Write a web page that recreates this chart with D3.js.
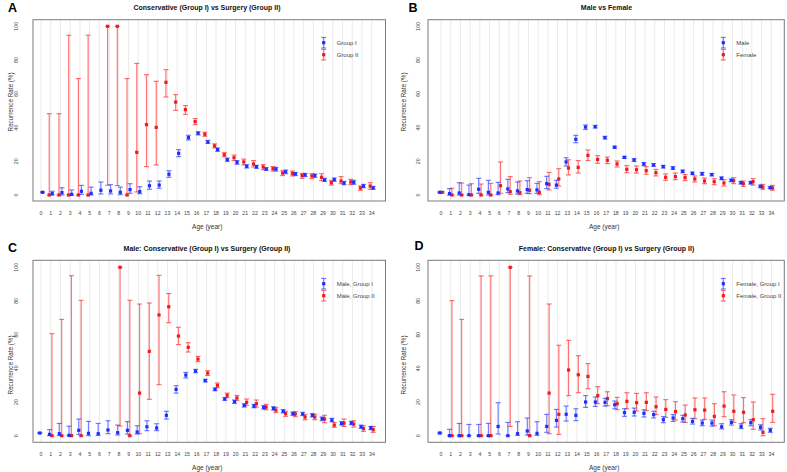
<!DOCTYPE html>
<html><head><meta charset="utf-8">
<script src="https://cdn.jsdelivr.net/npm/d3@7"></script>
<style>
body{margin:0;background:#fff}
svg{display:block}
text{font-family:"Liberation Sans",Arial,Helvetica,sans-serif}
</style>
</head><body>
<svg id="c" width="787" height="472"></svg>
<script>
const ages = [0,1,2,3,4,5,6,7,8,9,10,11,12,13,14,15,16,17,18,19,20,21,22,23,24,25,26,27,28,29,30,31,32,33,34];
const yTicks = [0,20,40,60,80,100];
const N = null;

// Panel A: Conservative (Group I) vs Surgery (Group II)
const aG1   = [1.6,0.8,1.4,0.4,2.2,1.0,2.8,2.4,1.6,3.2,2.0,5.5,5.9,12.3,24.7,34.0,36.6,31.4,26.9,20.9,19.4,17.0,16.8,15.4,15.4,13.8,12.5,11.9,11.5,8.9,9.1,7.1,7.5,5.3,4.2];
const aG1lo = [1.3,0,0,0,0.4,0,0.6,0.6,0.2,1.0,0.8,3.4,4.0,10.5,22.7,32.6,35.6,30.6,25.9,20.0,18.2,16.0,15.8,14.6,14.2,12.6,11.5,10.9,10.5,8.1,8.1,6.1,6.3,4.3,3.4];
const aG1hi = [1.9,2.2,4.3,3.0,5.7,4.7,7.7,6.1,4.7,6.7,4.9,8.3,8.3,14.4,26.9,35.4,37.5,32.4,27.9,21.9,20.4,18.0,17.6,16.2,16.4,14.8,13.4,12.8,12.5,9.9,10.1,8.1,8.7,6.3,5.1];
const aG2   = [N,0,0,0,0,0,N,100,100,0,25.3,41.7,40.1,66.8,55.1,50.6,43.5,36.0,29.1,23.9,22.1,19.6,18.4,16.6,15.6,13.0,12.8,11.5,11.3,10.5,7.3,8.3,7.7,4.2,5.3];
const aG2lo = [N,0,0,0,0,0,N,5.8,5.6,0,1.8,16.8,17.8,58.1,50.2,47.8,41.7,34.8,27.9,22.7,20.4,17.8,16.6,15.0,14.2,11.5,11.3,9.9,9.7,8.5,5.9,6.7,6.1,2.8,3.4];
const aG2hi = [N,48.2,48.2,94.7,69.0,94.7,N,100,100,69.0,78.0,71.3,67.4,74.3,59.5,53.0,45.3,37.2,30.3,25.1,23.7,21.3,20.4,18.0,16.8,14.4,14.2,12.8,12.6,12.6,8.7,10.9,9.3,5.3,7.3];

// Panel B: Male vs Female
const bM    = [1.6,0.8,1.2,0.2,3.4,1.6,1.2,3.6,2.4,3.2,3.0,6.7,5.9,19.6,33.0,40.3,40.5,34.0,28.3,22.3,20.8,18.4,17.8,16.8,16.0,14.0,12.8,12.6,12.1,9.9,8.7,7.3,7.3,5.1,4.3];
const bMlo  = [1.3,0,0,0,1.0,0,0.2,1.4,0.6,1.0,1.0,3.8,4.0,17.2,31.0,38.9,39.7,33.2,27.7,21.7,19.9,17.4,17.0,16.0,15.2,13.2,12.1,11.7,11.3,9.1,7.9,6.5,6.5,4.3,3.8];
const bMhi  = [1.9,3.8,7.3,5.9,9.9,8.7,7.5,9.3,7.7,8.5,6.9,11.1,8.7,22.1,35.4,41.5,41.3,34.8,28.9,22.9,21.5,19.2,18.6,17.6,16.8,14.8,13.6,13.4,12.8,10.7,9.5,8.1,8.1,5.9,5.1];
const bF    = [1.6,0,0,0,0,0,5.5,2.0,1.4,2.8,1.6,6.3,9.5,16.0,16.4,23.5,21.1,20.6,18.4,15.2,15.0,14.4,13.2,10.5,10.9,10.3,9.5,8.3,7.9,7.1,8.5,6.7,7.9,4.7,4.2];
const bFlo  = [1.2,0,0,0,0,0,1.0,0.4,0.2,0.8,0.2,3.0,5.3,11.9,13.0,20.4,18.8,18.6,16.6,13.2,13.0,12.3,11.3,8.7,9.1,8.5,7.7,6.7,6.1,5.3,6.7,5.1,5.9,3.4,2.8];
const bFhi  = [2.0,4.0,7.1,6.7,6.5,6.9,19.6,10.9,8.3,10.3,7.9,13.4,15.6,20.9,20.4,26.7,23.3,22.5,20.2,17.4,17.2,16.8,15.2,12.5,13.0,12.1,11.3,10.1,9.7,9.1,10.3,8.3,9.7,6.3,5.7];

// Panel C: Male: Conservative (Group I) vs Surgery (Group II)
const cG1   = [1.6,0.8,1.2,0.2,3.2,1.4,1.2,3.4,1.8,3.2,2.2,5.3,4.6,12.1,27.5,36.0,38.4,32.7,27.5,21.8,20.2,18.0,17.6,16.8,16.2,14.5,13.1,12.9,12.1,10.1,9.3,7.3,7.5,5.3,4.6];
const cG1lo = [1.3,0,0,0,0.8,0,0.2,1.2,0.4,1.0,1.0,3.0,3.0,9.9,25.3,34.3,37.4,31.9,26.7,21.0,19.2,17.0,16.6,15.8,15.2,13.5,12.1,11.9,11.1,8.9,8.3,6.3,6.5,4.4,3.6];
const cG1hi = [1.9,3.6,7.3,5.7,9.9,8.5,7.3,8.9,6.3,8.3,5.9,8.9,7.1,14.5,29.7,37.6,39.4,33.5,28.3,22.6,21.2,19.0,18.6,17.8,17.2,15.5,14.1,13.9,13.1,11.1,10.3,8.3,8.5,6.3,5.5];
const cG2   = [N,0,0,0,0,N,N,N,100,0,25.3,50.1,71.7,76.6,59.2,52.5,45.5,37.2,29.9,24.0,22.4,19.8,19.0,17.0,15.2,13.1,12.9,11.1,11.1,9.9,6.3,7.5,6.9,4.2,3.6];
const cG2lo = [N,0,0,0,0,N,N,N,5.7,0,1.2,21.6,30.3,67.1,54.1,49.7,44.0,35.8,28.5,22.6,20.8,18.0,17.0,15.4,13.7,11.5,11.3,9.5,9.5,7.7,5.0,5.5,5.1,2.6,2.0];
const cG2hi = [N,60.6,69.1,95.0,80.4,N,N,N,100,80.4,78.2,78.8,95.2,84.4,64.4,55.2,47.1,38.6,31.3,25.3,23.9,21.8,21.2,18.6,16.8,14.5,14.3,12.7,12.7,12.1,7.9,9.9,8.9,5.9,5.5];

// Panel D: Female: Conservative (Group I) vs Surgery (Group II)
const dG1   = [1.6,0,0,0,0,0,5.5,0,1.2,2.8,1.4,5.5,9.1,12.7,12.1,20.0,20.0,19.8,18.4,13.7,13.9,13.3,12.5,9.5,10.5,10.1,8.5,7.5,7.5,5.3,7.9,5.5,7.7,5.0,3.2];
const dG1lo = [1.2,0,0,0,0,0,1.0,0,0.2,0.4,0.2,2.0,5.1,8.7,8.9,16.8,17.4,17.6,16.0,11.5,11.7,11.1,10.5,7.7,8.5,8.1,6.9,5.9,5.7,4.0,6.3,4.2,5.9,3.4,2.0];
const dG1hi = [2.0,3.8,7.3,6.7,6.7,7.3,19.6,7.9,8.3,10.5,8.3,12.7,15.6,17.6,16.0,23.8,23.0,22.2,20.6,16.0,16.4,15.4,14.5,11.3,12.5,12.1,10.3,9.3,9.3,7.1,9.5,7.1,9.5,6.5,4.4];
const dG2   = [N,0,0,N,0,0,N,100,N,0,N,25.3,12.7,39.0,36.2,35.2,23.8,22.0,19.0,20.4,19.6,19.8,17.2,15.6,14.3,12.3,15.4,15.2,11.5,17.6,14.5,13.9,9.5,2.0,14.5];
const dG2lo = [N,0,0,N,0,0,N,5.5,N,0,N,1.2,0.8,23.8,25.5,27.9,19.0,17.8,15.4,16.0,14.7,14.9,12.5,10.9,9.3,7.9,10.1,9.7,5.9,11.3,7.9,7.7,3.8,0,7.9];
const dG2hi = [N,80.2,69.1,N,94.9,94.9,N,100,N,94.9,N,78.2,53.7,56.6,47.5,42.8,29.1,26.1,22.8,25.5,25.1,25.5,23.0,21.4,20.2,18.2,22.4,22.4,19.0,26.1,24.2,22.6,20.0,10.1,24.6];

const BLUE = "#1e2eff", RED = "#f21a1a";

const panels = [
  {letter:"A", title:"Conservative (Group I) vs Surgery (Group II)", names:["Group I","Group II"],
   s1:[aG1,aG1lo,aG1hi], s2:[aG2,aG2lo,aG2hi], off1:1.5, off2:-1.5,
   box:[33,19.7,385.5,201], xr:[41,371.7], yr:[195,26.3], ytl:16.5, ylab:[10.3,102], titleXY:[207,9.8], letterXY:[8,11.8], leg:[323.7,42.7]},
  {letter:"B", title:"Male vs Female", names:["Male","Female"],
   s1:[bM,bMlo,bMhi], s2:[bF,bFlo,bFhi], off1:-1.2, off2:1.2,
   box:[428,19.7,784.3,201], xr:[441,771.3], yr:[195,26.3], ytl:418.5, ylab:[403.5,102], titleXY:[606.5,9.8], letterXY:[408.5,11.8], leg:[723.3,42.7]},
  {letter:"C", title:"Male: Conservative (Group I) vs Surgery (Group II)", names:["Male, Group I","Male, Group II"],
   s1:[cG1,cG1lo,cG1hi], s2:[cG2,cG2lo,cG2hi], off1:-1.2, off2:1.2,
   box:[33,260.3,385.5,442.3], xr:[41,372], yr:[435.7,267.3], ytl:16.5, ylab:[10.3,365], titleXY:[207,250.8], letterXY:[8,251.8], leg:[323.7,283.7]},
  {letter:"D", title:"Female: Conservative (Group I) vs Surgery (Group II)", names:["Female, Group I","Female, Group II"],
   s1:[dG1,dG1lo,dG1hi], s2:[dG2,dG2lo,dG2hi], off1:-1.2, off2:1.2,
   box:[428,260.3,784.3,442.3], xr:[441,771.5], yr:[435.7,267.3], ytl:418.5, ylab:[403.5,365], titleXY:[606.5,250.8], letterXY:[414.5,250.2], leg:[723.3,283.7]}
];

const svg = d3.select("#c");

function errBar(g, x, yp, ylo, yhi, color, barColor) {
  const cap = 2.5;
  g.append("line").attr("x1",x).attr("x2",x).attr("y1",ylo).attr("y2",yhi)
    .attr("stroke",barColor).attr("stroke-width",1.2).attr("stroke-opacity",0.65);
  [ylo,yhi].forEach(yy => g.append("line").attr("x1",x-cap).attr("x2",x+cap).attr("y1",yy).attr("y2",yy)
    .attr("stroke",barColor).attr("stroke-width",1.1).attr("stroke-opacity",0.7));
  g.append("rect").attr("x",x-1.6).attr("y",yp-1.6).attr("width",3.2).attr("height",3.2).attr("fill",color);
}

panels.forEach(p => {
  const g = svg.append("g");
  const [bx0,by0,bx1,by1] = p.box;
  const x = d3.scaleLinear().domain([0,34]).range(p.xr);
  const y = d3.scaleLinear().domain([0,100]).range(p.yr);

  // grid
  g.selectAll(null).data(ages).join("line")
    .attr("x1",d=>x(d)).attr("x2",d=>x(d)).attr("y1",by0).attr("y2",by1)
    .attr("stroke","#e4e4e4").attr("stroke-width",0.8);

  // box
  g.append("rect").attr("x",bx0).attr("y",by0).attr("width",bx1-bx0).attr("height",by1-by0)
    .attr("fill","none").attr("stroke","#7a7a7a").attr("stroke-width",1);

  // x tick labels
  g.selectAll(null).data(ages).join("text")
    .attr("x",d=>x(d)).attr("y",by1+13.5).attr("text-anchor","middle")
    .attr("font-size",5.2).attr("fill","#444").text(d=>d);

  // y tick labels (rotated)
  g.selectAll(null).data(yTicks).join("text")
    .attr("transform",d=>`translate(${p.ytl+1.8},${y(d)}) rotate(-90)`)
    .attr("text-anchor","middle").attr("font-size",5.2).attr("fill","#444").text(d=>d);

  // axis labels
  g.append("text").attr("x",(bx0+bx1)/2-2).attr("y",by1+28).attr("text-anchor","middle")
    .attr("font-size",6.5).attr("fill","#333").text("Age (year)");
  g.append("text").attr("transform",`translate(${p.ylab[0]+2.3},${p.ylab[1]}) rotate(-90)`)
    .attr("text-anchor","middle").attr("font-size",6.3).attr("fill","#333").text("Recurrence Rate (%)");

  // title & letter
  g.append("text").attr("x",p.titleXY[0]).attr("y",p.titleXY[1]).attr("text-anchor","middle")
    .attr("font-size",7).attr("font-weight","bold").attr("fill","#111").text(p.title);
  g.append("text").attr("x",p.letterXY[0]).attr("y",p.letterXY[1])
    .attr("font-size",12.5).attr("font-weight","bold").attr("fill","#000").text(p.letter);

  // series: red (group 2) first, blue on top
  const series = [
    {v:p.s2, off:p.off2, c:RED, bc:"#ff2a2a"},
    {v:p.s1, off:p.off1, c:BLUE, bc:"#2a3cff"}
  ];
  series.forEach(s => {
    const [pt,lo,hi] = s.v;
    const sg = g.append("g");
    ages.forEach((a,i) => {
      if (pt[i] === null) return;
      errBar(sg, x(a)+s.off, y(pt[i]), y(lo[i]), y(hi[i]), s.c, s.bc);
    });
  });

  // legend
  const [lx,ly] = p.leg;
  const lg = g.append("g");
  [[BLUE,"#2a3cff",p.names[0],ly],[RED,"#ff2a2a",p.names[1],ly+12]].forEach(([c,bc,name,yy]) => {
    errBar(lg, lx, yy, yy+5.3, yy-5.3, c, bc);
    lg.append("text").attr("x",lx+13).attr("y",yy+2).attr("font-size",6)
      .attr("fill","#444").text(name);
  });
});
</script>
</body></html>
